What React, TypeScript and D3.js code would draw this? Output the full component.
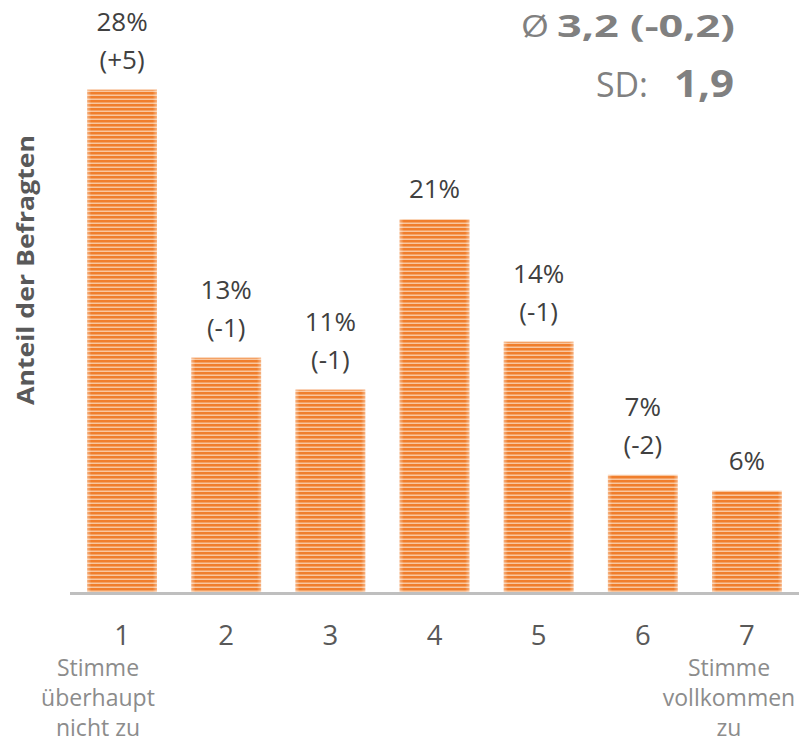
import React from "react";
import * as d3 from "d3";

const categories = ["1", "2", "3", "4", "5", "6", "7"];
const shares = [28.3, 13.2, 11.4, 21.0, 14.1, 6.6, 5.7];
const pctLabels = ["28%", "13%", "11%", "21%", "14%", "7%", "6%"];
const changeLabels = ["(+5)", "(-1)", "(-1)", "", "(-1)", "(-2)", ""];
const leftAnchorLines = ["Stimme", "überhaupt", "nicht zu"];
const rightAnchorLines = ["Stimme", "vollkommen", "zu"];
const yTitle = "Anteil der Befragten";
const meanSymbol = "Ø";
const meanText = "3,2 (-0,2)";
const sdLabel = "SD:";
const sdText = "1,9";

const W = 799;
const H = 743;
const FONT = "'Open Sans', sans-serif";

export default function App() {
  const x = d3.scaleBand<string>().domain(categories).range([70, 799]).paddingInner(0.33).paddingOuter(0.165);
  const y = d3.scaleLinear().domain([0, 30]).range([592, 59.5]);
  const bw = x.bandwidth();

  return (
    <svg width={W} height={H} style={{ position: "absolute", left: 0, top: 0, background: "#fff" }}>
      <defs>
        <pattern id="stripes" patternUnits="userSpaceOnUse" width="8" height="4">
          <rect width="8" height="4" fill="#F9C69E" />
          <rect width="8" height="2.5" fill="#F07E2C" />
        </pattern>
        <linearGradient id="edge" x1="0" x2="1" y1="0" y2="0">
          <stop offset="0" stopColor="#fff" stopOpacity="0.4" />
          <stop offset="0.06" stopColor="#fff" stopOpacity="0" />
          <stop offset="0.94" stopColor="#fff" stopOpacity="0" />
          <stop offset="1" stopColor="#fff" stopOpacity="0.4" />
        </linearGradient>
      </defs>

      {categories.map((c, i) => {
        const x0 = x(c)!;
        const top = y(shares[i]);
        return (
          <g key={c}>
            <rect x={x0} y={top} width={bw} height={y(0) - top} fill="url(#stripes)" />
            <rect x={x0} y={top} width={bw} height={y(0) - top} fill="url(#edge)" />
          </g>
        );
      })}

      <line x1={70} x2={799} y1={593.5} y2={593.5} stroke="#BFBFBF" strokeWidth={3} />

      {categories.map((c, i) => {
        const cx = x(c)! + bw / 2;
        const top = y(shares[i]);
        const hasChange = changeLabels[i] !== "";
        return (
          <g key={"l" + c} fontFamily={FONT} fontSize={26} fill="#404040" textAnchor="middle">
            {hasChange ? (
              <>
                <text x={cx} y={top - 59}>{pctLabels[i]}</text>
                <text x={cx} y={top - 21}>{changeLabels[i]}</text>
              </>
            ) : (
              <text x={cx} y={top - 21}>{pctLabels[i]}</text>
            )}
            <text x={cx} y={645} fontSize={27.5} fill="#595959">{c}</text>
          </g>
        );
      })}

      <g fontFamily={FONT} fontSize={23} fill="#8C8C8C" textAnchor="middle">
        {leftAnchorLines.map((t, j) => (
          <text key={"a" + j} x={98} y={676 + j * 30}>{t}</text>
        ))}
        {rightAnchorLines.map((t, j) => (
          <text key={"b" + j} x={729} y={676 + j * 30}>{t}</text>
        ))}
      </g>

      <text
        transform="translate(34,270) rotate(-90)"
        textAnchor="middle"
        fontFamily={FONT}
        fontWeight="bold"
        fontSize={23}
        fill="#595959"
        textLength={270}
        lengthAdjust="spacingAndGlyphs"
      >
        {yTitle}
      </text>

      <g fontFamily={FONT} fill="#808080">
        <text x={521} y={37} fontSize={31} textLength={28} lengthAdjust="spacingAndGlyphs">{meanSymbol}</text>
        <text x={557} y={37} fontSize={31} fontWeight="bold" textLength={178} lengthAdjust="spacingAndGlyphs">{meanText}</text>
        <text x={596} y={97} fontSize={35} textLength={52} lengthAdjust="spacingAndGlyphs">{sdLabel}</text>
        <text x={674} y={97} fontSize={38} fontWeight="bold" textLength={60} lengthAdjust="spacingAndGlyphs">{sdText}</text>
      </g>
    </svg>
  );
}
